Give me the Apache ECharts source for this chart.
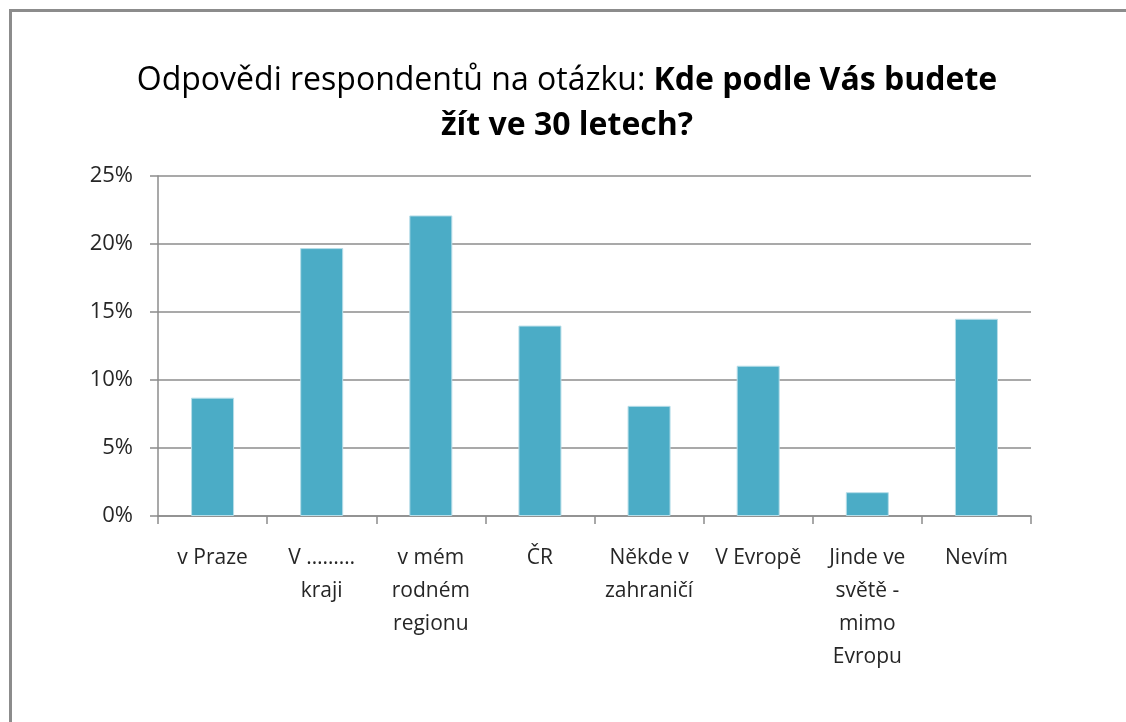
<!DOCTYPE html>
<html><head><meta charset="utf-8">
<script src="https://cdn.jsdelivr.net/npm/echarts@6/dist/echarts.min.js"></script>
<style>html,body{margin:0;padding:0;background:#fff}#c{width:1126px;height:722px}</style>
</head><body><div id="c"></div>
<script>
var categories = ["v Praze", "V ………\nkraji", "v mém\nrodném\nregionu", "ČR", "Někde v\nzahraničí", "V Evropě", "Jinde ve\nsvětě -\nmimo\nEvropu", "Nevím"];
var values = [8.7, 19.7, 22.1, 14.0, 8.1, 11.05, 1.75, 14.5];
var yTicks = [0, 5, 10, 15, 20, 25];
var FONT = '"Open Sans", Lato, sans-serif';
var chart = echarts.init(document.getElementById('c'), null, {renderer: 'canvas'});
chart.setOption({
  backgroundColor: '#fff',
  animation: false,
  graphic: [{
    type: 'rect', left: 8, top: 8,
    shape: {width: 1300, height: 900},
    style: {fill: 'none', stroke: '#8c8c8c', lineWidth: 3}
  }],
  title: {
    text: '{n|Odpovědi respondentů na otázku: }{b|Kde podle Vás budete}\n{b|žít ve 30 letech?}',
    left: 567, top: 58, padding: 0, textAlign: 'center',
    textStyle: {
      rich: {
        n: {fontFamily: FONT, fontSize: 32, fontWeight: 'normal', color: '#000', lineHeight: 45},
        b: {fontFamily: FONT, fontSize: 32, fontWeight: 'bold', color: '#000', lineHeight: 45}
      }
    }
  },
  grid: {left: 158, right: 95, top: 176, bottom: 206, containLabel: false},
  xAxis: {
    type: 'category', data: categories,
    axisLine: {lineStyle: {color: '#8c8c8c', width: 1.5}},
    axisTick: {show: true, length: 8, alignWithLabel: false, lineStyle: {color: '#8c8c8c', width: 1.5}},
    axisLabel: {interval: 0, margin: 26, color: '#262626', fontFamily: FONT, fontSize: 21, lineHeight: 33, verticalAlign: 'top'}
  },
  yAxis: {
    type: 'value', min: 0, max: 25, interval: 5,
    axisLine: {show: true, lineStyle: {color: '#8c8c8c', width: 1.5}},
    axisTick: {show: true, length: 8, lineStyle: {color: '#8c8c8c', width: 1.5}},
    splitLine: {show: true, lineStyle: {color: '#8c8c8c', width: 1.5}},
    axisLabel: {margin: 25, color: '#262626', fontFamily: FONT, fontSize: 22,
      formatter: function (v) { return yTicks.indexOf(v) >= 0 ? v + '%' : ''; }}
  },
  series: [{
    type: 'bar', data: values, barWidth: 43,
    itemStyle: {color: '#4BACC6', borderColor: '#b6dde8', borderWidth: 1}
  }]
});
</script></body></html>
